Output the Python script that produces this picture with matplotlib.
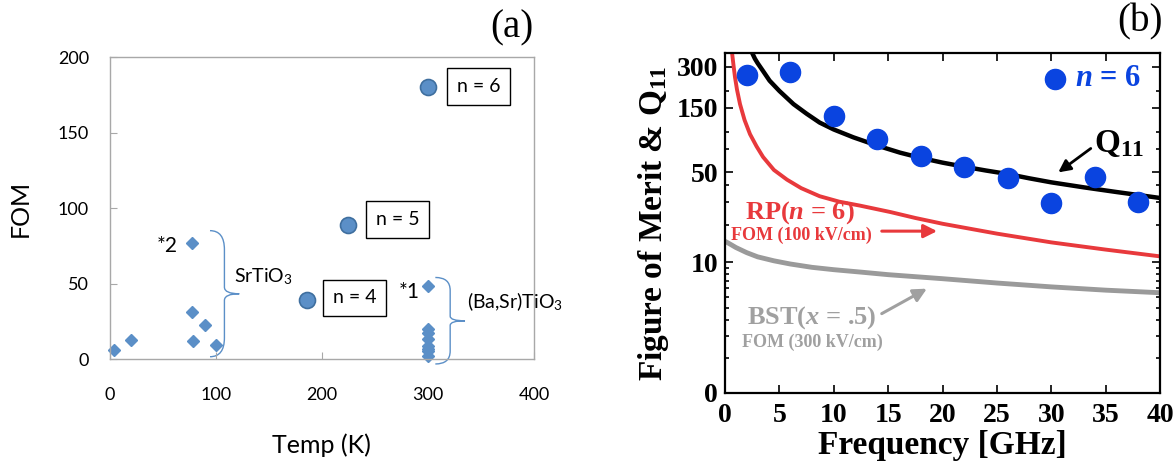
import numpy as np
import matplotlib
matplotlib.use('Agg')
import matplotlib.pyplot as plt
from matplotlib.path import Path
from matplotlib.patches import PathPatch

# ---- panel (a): FOM vs temperature ----
sto_temp = [4, 20, 77, 77, 78, 90, 100]
sto_fom = [6.2, 12.5, 77, 31, 12, 22.7, 9.5]
bst_temp = [300, 300, 300, 300, 300, 300, 300, 300]
bst_fom = [48.5, 20, 17, 13, 8.5, 6.5, 5, 2]
rp_temp = [186, 225, 300]
rp_fom = [39, 89, 180]
rp_labels = ['n = 4', 'n = 5', 'n = 6']

# ---- panel (b): FOM & Q11 vs frequency ----
meas_freq = [2, 6, 10, 14, 18, 22, 26, 30, 34, 38]
meas_val = [261, 277, 131, 89, 66, 54.6, 45.2, 29.5, 46, 29.7]
q11_freq = [2.5, 2.75, 3.0, 3.5, 4.1, 5, 6.3, 7.5, 8.7, 10, 11.8, 14, 16.1, 18, 20, 22, 24, 26, 28, 30, 33, 36, 40]
q11_val = [380, 345, 320, 280, 238, 200, 160, 136, 117, 104, 91, 79, 70, 64, 59, 55, 51.5, 48.5, 45, 42, 38.5, 35.5, 32]
rp_freq = [0.65, 0.8, 0.92, 1.1, 1.38, 1.8, 2.3, 2.9, 3.5, 4.5, 5.7, 7, 8.7, 10.5, 12.4, 15.2, 17.5, 20, 25, 30, 35, 40]
rp_val = [380, 300, 252, 205, 160, 122, 96, 78, 65, 52, 44, 38, 33, 30, 28, 25, 22.5, 20.3, 17, 14.5, 12.7, 11.2]
bstf_freq = [0, 0.5, 1, 2, 3, 4.5, 6, 8, 10, 12.5, 15, 20, 25, 30, 35, 40]
bstf_val = [14.8, 14, 13.2, 12, 11.1, 10.3, 9.7, 9.1, 8.7, 8.3, 7.9, 7.3, 6.7, 6.2, 5.8, 5.5]
yticks_b = [0, 10, 50, 150, 300]
yminor_b = [1, 2, 3, 4, 5, 6, 7, 8, 9, 20, 30, 40, 75, 100, 200]

plt.rcParams['mathtext.fontset'] = 'custom'
plt.rcParams['mathtext.rm'] = 'Liberation Serif:bold'
plt.rcParams['mathtext.it'] = 'Liberation Serif:italic:bold'
plt.rcParams['mathtext.sf'] = 'Lato'

fig = plt.figure(figsize=(11.76, 4.68), dpi=100)
ptblue = '#5b8fc7'
sans = 'Lato'
serif = 'Liberation Serif'

# ================= (a) =================
ax = fig.add_axes([0.0935, 0.2329, 0.3605, 0.6453])
ax.set_xlim(0, 400)
ax.set_ylim(0, 200)
for s in ax.spines.values():
    s.set_color('#a8a8a8')
    s.set_linewidth(1)
ax.set_xticks([0, 100, 200, 300, 400])
ax.set_yticks([0, 50, 100, 150, 200])
ax.tick_params(direction='in', length=5, color='#a8a8a8', labelsize=13)
ax.tick_params(axis='x', pad=20)
ax.tick_params(axis='y', pad=15)
for lab in ax.get_xticklabels() + ax.get_yticklabels():
    lab.set_family(sans)

ax.plot(sto_temp, sto_fom, 'D', color=ptblue, ms=6.5, clip_on=False)
ax.plot(bst_temp, bst_fom, 'D', color=ptblue, ms=6.5, clip_on=False)
ax.plot(rp_temp, rp_fom, 'o', color=ptblue, mec='#3f6f9f', mew=1.2, ms=11.5)

box_pos = [(230.5, 40.5), (271.5, 92.5), (347.5, 180.5)]
for (bx, by), t in zip(box_pos, rp_labels):
    ax.text(bx, by, t, ha='center', va='center', fontsize=14, family=sans,
            bbox=dict(boxstyle='square,pad=0.5', fc='white', ec='black', lw=1))

ax.text(54, 75, '*2', ha='center', va='center', fontsize=15, family=sans)
ax.text(282, 44.5, '*1', ha='center', va='center', fontsize=15, family=sans)
ax.text(117, 54.6, r'SrTiO$_\mathsf{3}$', ha='left', va='center', fontsize=14, family=sans)
ax.text(337, 38, r'(Ba,Sr)TiO$_\mathsf{3}$', ha='left', va='center', fontsize=14, family=sans,
        clip_on=False)


def brace(ax, x0, x1, x2, yt, ym, yb):
    d1 = 0.3 * (yt - ym)
    d2 = 0.3 * (ym - yb)
    verts = [(x0, yt), (x1, yt), (x1, yt - d1),
             (x1, ym + 0.35 * d1), (x1, ym), (x2, ym),
             (x1, ym), (x1, ym - 0.35 * d2),
             (x1, yb + d2), (x1, yb), (x0, yb)]
    codes = [Path.MOVETO, Path.CURVE3, Path.CURVE3,
             Path.LINETO, Path.CURVE3, Path.CURVE3,
             Path.CURVE3, Path.CURVE3,
             Path.LINETO, Path.CURVE3, Path.CURVE3]
    ax.add_patch(PathPatch(Path(verts, codes), fc='none', ec=ptblue, lw=1, clip_on=False))


brace(ax, 94.4, 108, 122, 85, 43.2, 1.5)
brace(ax, 307, 321, 335, 54, 25.3, -3.3)

ax.set_xlabel('Temp (K)', fontsize=18, family=sans, labelpad=22)
ax.set_ylabel('FOM', fontsize=18, family=sans, labelpad=19)
fig.text(0.435, 0.94, '(a)', ha='center', va='center', fontsize=28, family=serif)

# ================= (b) =================
bx = fig.add_axes([0.6165, 0.1603, 0.3699, 0.7265])


def fwd(y):
    return np.log10(1 + np.asarray(y, dtype=float) / 1.25)


def inv(t):
    return 1.25 * (10 ** np.asarray(t, dtype=float) - 1)


bx.set_yscale('function', functions=(fwd, inv))
bx.plot(bstf_freq, bstf_val, color='#9a9a9a', lw=3.5, solid_capstyle='butt')
bx.plot(rp_freq, rp_val, color='#e8393c', lw=2.8)
bx.plot(q11_freq, q11_val, color='black', lw=3.2)
bx.plot(meas_freq, meas_val, 'o', color='#0a44e0', ms=14.5, mec='#0a44e0', clip_on=False)
bx.set_xlim(0, 40)
bx.set_ylim(0, 380)
bx.set_xticks(range(0, 41, 5))
bx.set_yticks(yticks_b)
bx.set_yticks(yminor_b, minor=True)
bx.set_yticklabels([str(v) for v in yticks_b])
bx.tick_params(which='both', direction='in', top=True, right=True, width=1.2)
bx.tick_params(which='major', length=6)
bx.tick_params(which='minor', length=3)
bx.tick_params(axis='x', labelsize=20, pad=7)
bx.tick_params(axis='y', labelsize=20, pad=5)
for s in bx.spines.values():
    s.set_linewidth(1.6)
for lab in bx.get_xticklabels() + bx.get_yticklabels():
    lab.set_family(serif)
    lab.set_weight('bold')

bx.set_xlabel('Frequency [GHz]', fontsize=24, family=serif, weight='bold', labelpad=2)
bx.set_ylabel(r'Figure of Merit & Q$_{11}$', fontsize=24, family=serif, weight='bold', labelpad=4)

# legend-like marker
bx.plot([30.3], [245], 'o', color='#0a44e0', ms=14.5)
bx.text(0.88, 0.926, r'$n$ = 6', transform=bx.transAxes, ha='center', va='center',
        fontsize=22, family=serif, weight='bold', color='#0a44e0')

bx.text(0.906, 0.735, r'Q$_{11}$', transform=bx.transAxes, ha='center', va='center',
        fontsize=24, family=serif, weight='bold')
bx.annotate('', xy=(0.761, 0.644), xytext=(0.846, 0.724), xycoords='axes fraction',
            arrowprops=dict(arrowstyle='-|>', color='black', lw=2, mutation_scale=18))

red = '#e8393c'
bx.text(0.1724, 0.532, r'RP($n$ = 6)', transform=bx.transAxes, ha='center', va='center',
        fontsize=19, family=serif, weight='bold', color=red)
bx.text(0.175, 0.465, 'FOM (100 kV/cm)', transform=bx.transAxes, ha='center', va='center',
        fontsize=13, family=serif, weight='bold', color=red)
bx.annotate('', xy=(0.494, 0.476), xytext=(0.354, 0.476), xycoords='axes fraction',
            arrowprops=dict(arrowstyle='-|>', color=red, lw=2.2, mutation_scale=20))

gray = '#a0a0a0'
bx.text(0.2, 0.2206, r'BST($x$ = .5)', transform=bx.transAxes, ha='center', va='center',
        fontsize=19, family=serif, weight='bold', color=gray)
bx.text(0.2, 0.15, 'FOM (300 kV/cm)', transform=bx.transAxes, ha='center', va='center',
        fontsize=13, family=serif, weight='bold', color=gray)
bx.annotate('', xy=(0.4697, 0.3108), xytext=(0.3547, 0.2294), xycoords='axes fraction',
            arrowprops=dict(arrowstyle='-|>', color=gray, lw=2.2, mutation_scale=20))

fig.text(0.969, 0.953, '(b)', ha='center', va='center', fontsize=28, family=serif)

fig.savefig('out.png', dpi=100)
